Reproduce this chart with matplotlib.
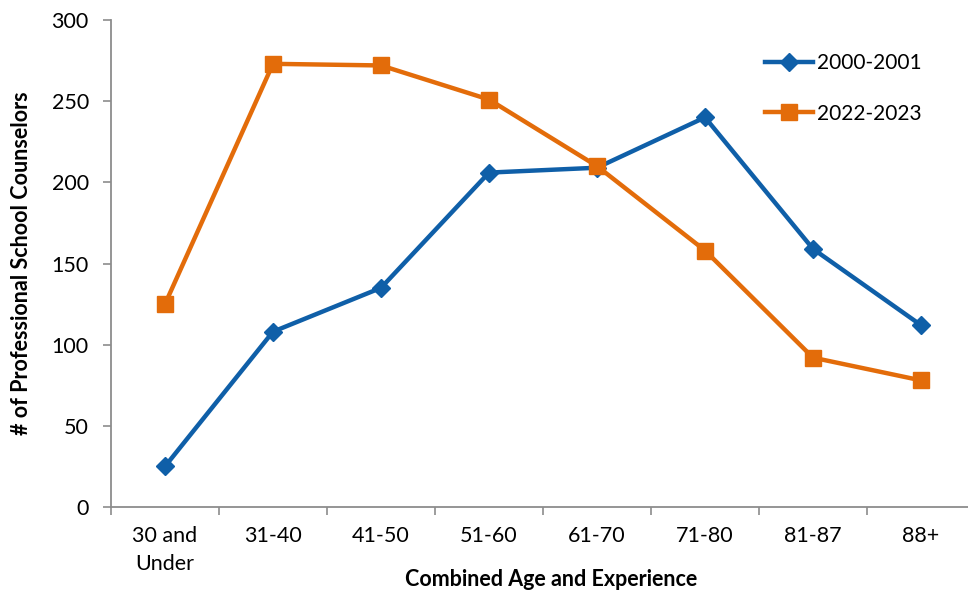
import matplotlib.pyplot as plt

plt.rcParams['font.family'] = ['Lato', 'DejaVu Sans']

categories = ['30 and\nUnder', '31-40', '41-50', '51-60', '61-70', '71-80', '81-87', '88+']
counts_2000 = [25, 108, 135, 206, 209, 240, 159, 112]
counts_2022 = [125, 273, 272, 251, 210, 158, 92, 78]

BLUE = '#0f5fa8'
ORANGE = '#e36c0a'
GRAY = '#8c8c8c'

fig = plt.figure(figsize=(9.68, 5.92), dpi=100)
ax = fig.add_axes([111 / 968, 85 / 592, 864 / 968, 487 / 592])

x = list(range(len(categories)))
ax.plot(x, counts_2000, color=BLUE, lw=3.2, marker='D', ms=9, label='2000-2001')
ax.plot(x, counts_2022, color=ORANGE, lw=3.2, marker='s', ms=11.5, label='2022-2023')

ax.set_xlim(-0.5, len(categories) - 0.5)
ax.set_ylim(0, 300)
ax.set_yticks(range(0, 301, 50))
ax.set_xticks(x)
ax.set_xticklabels(categories, linespacing=1.45)
# ticks sit on band boundaries, labels centred in the bands
ax.set_xticks([i - 0.5 for i in range(len(categories))], minor=True)
ax.tick_params(axis='x', which='major', length=0, pad=14, labelsize=15.5)
ax.tick_params(axis='x', which='minor', length=6, color=GRAY, width=1.2)
ax.tick_params(axis='y', length=6, color=GRAY, width=1.2, pad=10, labelsize=15.5)

for side in ['top', 'right']:
    ax.spines[side].set_visible(False)
for side in ['left', 'bottom']:
    ax.spines[side].set_color(GRAY)
    ax.spines[side].set_linewidth(1.3)

ax.set_xlabel('Combined Age and Experience', fontsize=15.5, fontweight='bold', va='center')
ax.xaxis.set_label_coords(0.509, -73 / 487)
ax.set_ylabel('# of Professional School Counselors', fontsize=15.5, fontweight='bold', labelpad=14)

ax.legend(loc='upper left', bbox_to_anchor=(0.735, 0.97), frameon=False, fontsize=15,
          handlelength=2.3, labelspacing=1.45, handletextpad=0.2)

fig.savefig('out.png', dpi=100)
